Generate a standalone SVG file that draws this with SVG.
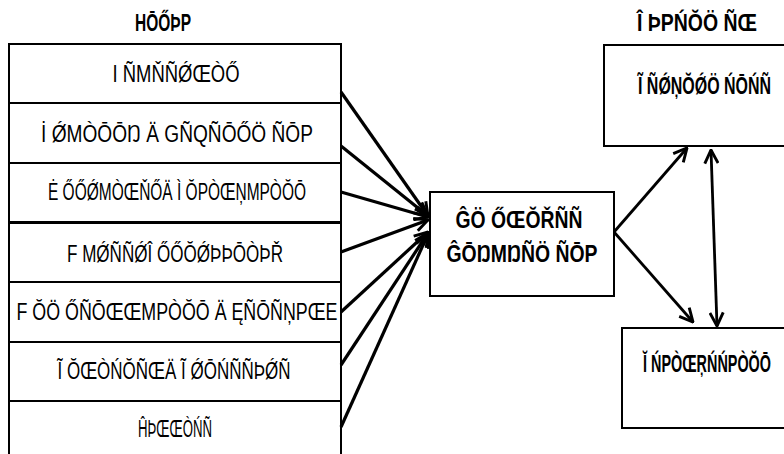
<svg xmlns="http://www.w3.org/2000/svg" width="784" height="454" viewBox="0 0 784 454">
<style>
.box{fill:#fff;stroke:#000;stroke-width:2}
.t{font-family:"Liberation Sans",Arial,sans-serif;font-size:23px;fill:#000;text-anchor:middle}
.b{font-weight:bold}
.e{text-anchor:end}
.c{fill:none;stroke:#000;stroke-width:3.2}
.c2{fill:none;stroke:#000;stroke-width:2.8}
</style>
<defs>
<marker id="ah" viewBox="0 0 12 12" refX="11" refY="6" markerWidth="16" markerHeight="16" markerUnits="userSpaceOnUse" orient="auto-start-reverse">
<path d="M1,1 L11,6 L1,11" fill="none" stroke="#000" stroke-width="2.2"/>
</marker>
</defs>
<rect width="784" height="454" fill="#fff"/>
<g id="title-left"><text class="t b" x="163" y="31" textLength="56" lengthAdjust="spacingAndGlyphs">HŌŐÞP</text></g>
<g id="title-right"><text class="t b" x="697" y="31" textLength="120" lengthAdjust="spacingAndGlyphs">Î ÞPŃŎÖ ÑŒ</text></g>
<g id="row1"><rect class="box" x="9" y="44" width="332" height="59"/><text class="t" x="176" y="82" textLength="127" lengthAdjust="spacingAndGlyphs">I ÑMŇÑǾŒÒŐ</text></g>
<g id="row2"><rect class="box" x="9" y="103" width="332" height="60"/><text class="t" x="177" y="142" textLength="272" lengthAdjust="spacingAndGlyphs">İ ǾMÒŌŌŊ Ä GÑQÑŌŐÖ ÑŌP</text></g>
<g id="row3"><rect class="box" x="9" y="163" width="332" height="59"/><text class="t" x="177" y="200" textLength="258" lengthAdjust="spacingAndGlyphs">Ė ŐŐǾMÒŒŇŐÄ Ì ŎPÒŒŅMPÒŎŌ</text></g>
<g id="row4"><rect class="box" x="9" y="223" width="332" height="59"/><text class="t" x="175" y="262" textLength="216" lengthAdjust="spacingAndGlyphs">F MǾÑÑǾÎ ŐŐŎǾÞÞŌÒÞŘ</text></g>
<g id="row5"><rect class="box" x="9" y="282" width="332" height="60"/><text class="t" x="177" y="320" textLength="321" lengthAdjust="spacingAndGlyphs">F ŎÖ ŐÑŌŒŒMPÒŎŌ Ä ĘÑŌÑŅPŒE</text></g>
<g id="row6"><rect class="box" x="9" y="342" width="332" height="59"/><text class="t" x="174" y="379" textLength="233" lengthAdjust="spacingAndGlyphs">Ĩ ŎŒÒŃŎÑŒÄ Ĩ ǾŌŃÑÑÞǾÑ</text></g>
<g id="row7"><rect class="box" x="9" y="401" width="332" height="70"/><text class="t" x="175" y="437" textLength="74" lengthAdjust="spacingAndGlyphs">ĤÞŒŒÒŃÑ</text></g>
<g id="center"><rect class="box" x="430" y="192" width="184" height="104"/>
<text class="t b" x="519" y="228" textLength="127" lengthAdjust="spacingAndGlyphs">ĜÖ ŐŒŎŘÑÑ</text>
<text class="t b" x="522" y="262" textLength="151" lengthAdjust="spacingAndGlyphs">ĜŌŊMŊÑÖ ÑŌP</text></g>
<g id="right-top"><rect class="box" x="604" y="45" width="190" height="101"/><text class="t b e" x="771" y="94" textLength="133" lengthAdjust="spacingAndGlyphs">Ĩ ÑǾŅŎǾÖ ŃŌŃÑ</text></g>
<g id="right-bottom"><rect class="box" x="622" y="328" width="172" height="100"/><text class="t b e" x="771" y="372" textLength="128" lengthAdjust="spacingAndGlyphs">Ĭ ŃPÒŒŖŃŃPÒŎŌ</text></g>
<g id="connectors">
<line class="c" x1="341" y1="92" x2="428" y2="216" marker-end="url(#ah)"/>
<line class="c" x1="341" y1="146" x2="428" y2="216" marker-end="url(#ah)"/>
<line class="c" x1="341" y1="192" x2="428" y2="217" marker-end="url(#ah)"/>
<line class="c" x1="341" y1="252" x2="428" y2="220" marker-end="url(#ah)"/>
<line class="c" x1="341" y1="312" x2="428" y2="232" marker-end="url(#ah)"/>
<line class="c" x1="341" y1="365" x2="428" y2="233" marker-end="url(#ah)"/>
<line class="c" x1="341" y1="427" x2="428" y2="234" marker-end="url(#ah)"/>
<line class="c2" x1="614" y1="232" x2="687" y2="148" marker-end="url(#ah)"/>
<line class="c2" x1="614" y1="232" x2="693" y2="322" marker-end="url(#ah)"/>
<line class="c2" x1="711" y1="150" x2="717" y2="326" marker-start="url(#ah)" marker-end="url(#ah)"/>
</g>
</svg>
